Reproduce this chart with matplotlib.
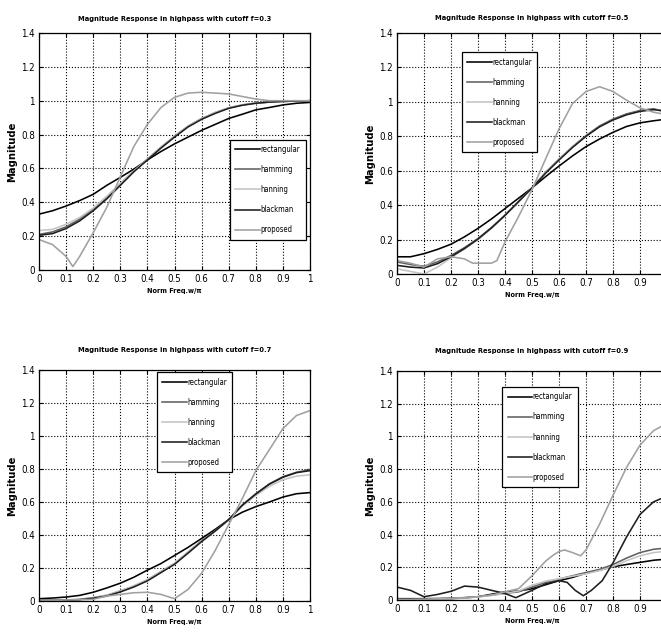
import numpy as np
import matplotlib
matplotlib.use("Agg")
import matplotlib.pyplot as plt

plt.rcParams['font.family'] = ['DejaVu Sans']
plt.rcParams['font.stretch'] = 'condensed'

# common x grid (normalised frequency)
xg = [0, 0.05, 0.1, 0.15, 0.2, 0.25, 0.3, 0.35, 0.4, 0.45, 0.5,
      0.55, 0.6, 0.65, 0.7, 0.75, 0.8, 0.85, 0.9, 0.95, 1.0]

names = ["rectangular", "hamming", "hanning", "blackman", "proposed"]
cutoffs = [0.3, 0.5, 0.7, 0.9]

# ---- cutoff 0.3
rect_03 = [0.33, 0.35, 0.378, 0.41, 0.447, 0.50, 0.547, 0.596, 0.65, 0.70, 0.745,
           0.785, 0.825, 0.86, 0.895, 0.92, 0.946, 0.96, 0.975, 0.985, 0.99]
hamm_03 = [0.21, 0.225, 0.255, 0.30, 0.36, 0.43, 0.51, 0.585, 0.655, 0.725, 0.79,
           0.85, 0.895, 0.93, 0.958, 0.975, 0.986, 0.992, 0.996, 0.998, 1.0]
hann_03 = [0.233, 0.24, 0.27, 0.31, 0.365, 0.435, 0.512, 0.585, 0.655, 0.725, 0.79,
           0.85, 0.895, 0.93, 0.958, 0.975, 0.986, 0.992, 0.996, 0.998, 1.0]
black_03 = [0.205, 0.215, 0.245, 0.29, 0.35, 0.42, 0.50, 0.58, 0.65, 0.72, 0.785,
            0.845, 0.89, 0.925, 0.955, 0.973, 0.985, 0.992, 0.996, 0.998, 1.0]
xp_03 = [0, 0.05, 0.1, 0.125, 0.15, 0.2, 0.25, 0.3, 0.35, 0.4, 0.45, 0.5,
         0.55, 0.6, 0.7, 0.8, 0.85, 0.9, 1.0]
prop_03 = [0.18, 0.15, 0.08, 0.02, 0.08, 0.22, 0.37, 0.55, 0.73, 0.86, 0.96, 1.02,
           1.045, 1.05, 1.04, 1.01, 1.0, 1.0, 1.0]

# ---- cutoff 0.5
rect_05 = [0.10, 0.10, 0.118, 0.143, 0.173, 0.216, 0.265, 0.32, 0.38, 0.44, 0.50,
           0.565, 0.627, 0.686, 0.74, 0.784, 0.823, 0.857, 0.878, 0.89, 0.90]
hamm_05 = [0.07, 0.055, 0.045, 0.07, 0.108, 0.153, 0.206, 0.27, 0.343, 0.42, 0.50,
           0.59, 0.667, 0.74, 0.804, 0.86, 0.90, 0.93, 0.95, 0.96, 0.94]
hann_05 = [0.03, 0.015, 0.0, 0.04, 0.095, 0.145, 0.20, 0.265, 0.34, 0.418, 0.50,
           0.59, 0.665, 0.74, 0.80, 0.855, 0.895, 0.925, 0.945, 0.955, 0.945]
black_05 = [0.05, 0.04, 0.035, 0.06, 0.10, 0.148, 0.203, 0.268, 0.34, 0.42, 0.50,
            0.585, 0.662, 0.735, 0.80, 0.855, 0.895, 0.925, 0.945, 0.955, 0.945]
xp_05 = [0, 0.05, 0.1, 0.15, 0.2, 0.25, 0.28, 0.35, 0.37, 0.4, 0.45, 0.5,
         0.55, 0.6, 0.65, 0.7, 0.75, 0.8, 0.85, 0.9, 0.95, 1.0]
prop_05 = [0.078, 0.063, 0.04, 0.088, 0.10, 0.088, 0.063, 0.063, 0.078, 0.186, 0.333, 0.49,
           0.667, 0.843, 0.99, 1.06, 1.088, 1.06, 1.01, 0.965, 0.94, 0.925]

# ---- cutoff 0.7
rect_07 = [0.014, 0.018, 0.024, 0.034, 0.053, 0.079, 0.108, 0.144, 0.187, 0.227, 0.276,
           0.325, 0.379, 0.434, 0.493, 0.538, 0.572, 0.60, 0.63, 0.65, 0.657]
hamm_07 = [0.004, 0.005, 0.006, 0.01, 0.02, 0.034, 0.06, 0.09, 0.128, 0.178, 0.227,
           0.296, 0.365, 0.424, 0.493, 0.582, 0.65, 0.71, 0.753, 0.78, 0.795]
hann_07 = [0.004, 0.005, 0.006, 0.01, 0.02, 0.036, 0.062, 0.092, 0.13, 0.178, 0.228,
           0.295, 0.363, 0.424, 0.49, 0.575, 0.64, 0.695, 0.735, 0.757, 0.765]
black_07 = [0.003, 0.003, 0.004, 0.008, 0.017, 0.03, 0.055, 0.085, 0.122, 0.172, 0.222,
            0.29, 0.36, 0.424, 0.493, 0.58, 0.648, 0.708, 0.75, 0.778, 0.79]
xp_07 = xg
prop_07 = [0.0, 0.003, 0.006, 0.008, 0.01, 0.03, 0.04, 0.05, 0.053, 0.04, 0.014,
           0.07, 0.168, 0.306, 0.463, 0.62, 0.79, 0.917, 1.045, 1.124, 1.154]

# ---- cutoff 0.9
rect_09 = [0.008, 0.008, 0.008, 0.009, 0.01, 0.013, 0.02, 0.035, 0.05, 0.055, 0.069,
           0.093, 0.118, 0.138, 0.164, 0.183, 0.203, 0.217, 0.23, 0.243, 0.25]
hamm_09 = [0.004, 0.004, 0.005, 0.007, 0.01, 0.015, 0.02, 0.03, 0.04, 0.05, 0.079,
           0.108, 0.128, 0.148, 0.168, 0.187, 0.217, 0.256, 0.29, 0.31, 0.318]
hann_09 = [0.003, 0.003, 0.004, 0.006, 0.009, 0.013, 0.018, 0.028, 0.04, 0.055, 0.09,
           0.115, 0.13, 0.145, 0.16, 0.18, 0.205, 0.24, 0.27, 0.29, 0.298]
xb_09 = [0, 0.05, 0.1, 0.15, 0.2, 0.25, 0.3, 0.35, 0.4, 0.44, 0.5, 0.55, 0.6, 0.63,
         0.66, 0.69, 0.72, 0.76, 0.8, 0.85, 0.9, 0.95, 1.0]
black_09 = [0.079, 0.059, 0.02, 0.034, 0.053, 0.085, 0.079, 0.059, 0.04, 0.014, 0.059,
            0.099, 0.118, 0.108, 0.059, 0.026, 0.059, 0.118, 0.227, 0.385, 0.523, 0.60, 0.635]
xp_09 = [0, 0.1, 0.2, 0.3, 0.35, 0.4, 0.45, 0.5, 0.55, 0.58, 0.6, 0.62, 0.65, 0.68,
         0.7, 0.75, 0.8, 0.85, 0.9, 0.95, 1.0]
prop_09 = [0.0, 0.0, 0.006, 0.02, 0.03, 0.05, 0.069, 0.148, 0.237, 0.276, 0.296, 0.306,
           0.29, 0.27, 0.306, 0.463, 0.64, 0.81, 0.947, 1.035, 1.08]

xtick_vals = [0, 0.1, 0.2, 0.3, 0.4, 0.5, 0.6, 0.7, 0.8, 0.9, 1]
xtick_lbls = ["0", "0.1", "0.2", "0.3", "0.4", "0.5", "0.6", "0.7", "0.8", "0.9", "1"]
ytick_vals = [0, 0.2, 0.4, 0.6, 0.8, 1, 1.2, 1.4]
ytick_lbls = ["0", "0.2", "0.4", "0.6", "0.8", "1", "1.2", "1.4"]

colors = ["#000000", "#606060", "#c4c4c4", "#1e1e1e", "#a0a0a0"]

W, H = 661, 634
fig = plt.figure(figsize=(W / 100, H / 100), dpi=100)

# axes boxes in pixels: left, top, right, bottom
boxes = [(39, 33, 310, 270), (397, 33, 667, 274), (39, 370, 310, 601), (397, 371, 667, 600)]
# legend upper-left corner in axes fraction
leg_pos = [(0.705, 0.55), (0.24, 0.92), (0.435, 0.99), (0.39, 0.93)]
title_pad = [9, 9, 13, 13]

panels = [
    ([xg, xg, xg, xg, xp_03], [rect_03, hamm_03, hann_03, black_03, prop_03]),
    ([xg, xg, xg, xg, xp_05], [rect_05, hamm_05, hann_05, black_05, prop_05]),
    ([xg, xg, xg, xg, xp_07], [rect_07, hamm_07, hann_07, black_07, prop_07]),
    ([xg, xg, xg, xb_09, xp_09], [rect_09, hamm_09, hann_09, black_09, prop_09]),
]

for k in range(4):
    l, t, r, b = boxes[k]
    ax = fig.add_axes([l / W, 1 - b / H, (r - l) / W, (b - t) / H])
    xs, ys = panels[k]
    for j in range(5):
        ax.plot(xs[j], ys[j], color=colors[j], lw=1.15, label=names[j])
    ax.set_xlim(0, 1)
    ax.set_ylim(0, 1.4)
    # right column is cropped at the image edge, so its last label is not visible
    if k % 2 == 1:
        ax.set_xticks(xtick_vals[:-1])
        ax.set_xticklabels(xtick_lbls[:-1])
    else:
        ax.set_xticks(xtick_vals)
        ax.set_xticklabels(xtick_lbls)
    ax.set_yticks(ytick_vals)
    ax.set_yticklabels(ytick_lbls)
    ax.tick_params(direction='in', length=3, width=0.8, labelsize=7, pad=3,
                   top=True, right=True)
    ax.grid(True, color='black', linestyle=':', linewidth=0.8)
    for s in ax.spines.values():
        s.set_linewidth(0.9)
    ax.set_title("Magnitude Response in highpass with cutoff f=%.1f" % cutoffs[k],
                 fontsize=5.4, fontweight='bold', pad=title_pad[k])
    ax.set_xlabel("Norm Freq.w/\u03c0", fontsize=5.2, fontweight='bold', labelpad=3)
    ax.set_ylabel("Magnitude", fontsize=8, fontweight='bold', labelpad=3)
    leg = ax.legend(loc='upper left', bbox_to_anchor=leg_pos[k], fontsize=5.5,
                    handlelength=3.2, handletextpad=0.1, labelspacing=1.45,
                    borderpad=0.7, borderaxespad=0, fancybox=False, framealpha=1,
                    edgecolor='black')
    leg.get_frame().set_linewidth(0.9)

fig.savefig("out.png", dpi=100)
